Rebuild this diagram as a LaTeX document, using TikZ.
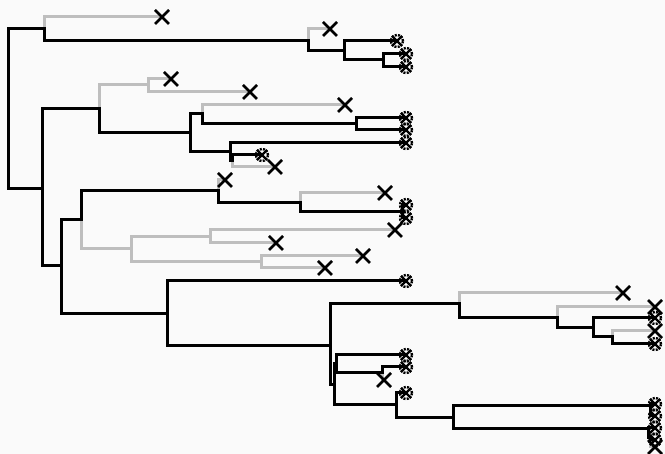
\documentclass[tikz,border=0pt]{standalone}
\definecolor{lostgray}{RGB}{190,190,190}
\definecolor{paper}{RGB}{250,250,250}
\tikzset{
    live/.style={draw=black, line width=3pt, line cap=rect},
    dead/.style={draw=lostgray, line width=3pt, line cap=rect},
    gone/.pic={\draw[line width=2.6pt] (-7,-7) -- (7,7) (-7,7) -- (7,-7);},
    alive/.pic={
        \draw[line width=2.4pt, dash pattern=on 2pt off 1.2pt] (0,0) circle (6pt);
        \draw[line width=2.2pt] (-5,-5) -- (5,5) (-5,5) -- (5,-5);}
}
\begin{document}
\begin{tikzpicture}[x=1pt, y=-1pt]
    \fill[paper] (0,0) rectangle (665,454);
    \useasboundingbox (0,0) rectangle (665,454);

    % Upper clade
    \coordinate (root) at (8,109);
    \coordinate (a) at (44,29);
    \coordinate (a1) at (162,17);
    \coordinate (b) at (308,41);
    \coordinate (b1) at (330,29);
    \coordinate (c) at (344,51);
    \coordinate (c1) at (397,41);
    \coordinate (d) at (383,60);
    \coordinate (d1) at (406,54);
    \coordinate (d2) at (406,67);

    % Middle clade
    \coordinate (e) at (42,189);
    \coordinate (f) at (99,109);
    \coordinate (g) at (148,85);
    \coordinate (g1) at (171,79);
    \coordinate (g2) at (250,92);
    \coordinate (h) at (190,133);
    \coordinate (i) at (202,114);
    \coordinate (i1) at (345,105);
    \coordinate (j) at (356,124);
    \coordinate (j1) at (406,118);
    \coordinate (j2) at (406,130);
    \coordinate (k) at (230,152);
    \coordinate (k1) at (406,143);
    \coordinate (l) at (232,161);
    \coordinate (l1) at (262,155);
    \coordinate (l2) at (275,167);

    \coordinate (m) at (61,266);
    \coordinate (n) at (81,220);
    \coordinate (o) at (218,191);
    \coordinate (o1) at (225,180);
    \coordinate (p) at (300,203);
    \coordinate (p1) at (385,193);
    \coordinate (pp) at (402,212);
    \coordinate (pp1) at (406,205);
    \coordinate (pp2) at (406,218);
    \coordinate (q) at (131,249);
    \coordinate (r) at (210,237);
    \coordinate (r1) at (395,230);
    \coordinate (r2) at (276,243);
    \coordinate (s) at (261,262);
    \coordinate (s1) at (363,256);
    \coordinate (s2) at (325,268);

    % Lower clade
    \coordinate (t) at (167,314);
    \coordinate (t1) at (406,281);
    \coordinate (u) at (330,346);
    \coordinate (aa) at (459,304);
    \coordinate (aa1) at (623,293);
    \coordinate (bb) at (557,318);
    \coordinate (bb1) at (655,307);
    \coordinate (cc) at (593,328);
    \coordinate (cc1) at (655,318);
    \coordinate (dd) at (612,337);
    \coordinate (dd1) at (655,331);
    \coordinate (dd2) at (655,344);
    \coordinate (y) at (334,385);
    \coordinate (z) at (336,364);
    \coordinate (z1) at (406,355);
    \coordinate (v) at (382,373);
    \coordinate (v1) at (406,367);
    \coordinate (v2) at (384,380);
    \coordinate (w0) at (396,405);
    \coordinate (w01) at (406,393);
    \coordinate (w) at (453,418);
    \coordinate (wa) at (650,406);
    \coordinate (wa1) at (655,404);
    \coordinate (wa2) at (655,416);
    \coordinate (wb) at (648,429);
    \coordinate (wb1) at (655,428);
    \coordinate (wc) at (650,438);
    \coordinate (wc1) at (655,440);
    \coordinate (wc2) at (655,447);

    % extinct lineages
    \foreach \up/\kid in {a/a1, b/b1, f/g, g/g1, g/g2, i/i1, l/l2, o/o1,
        p/p1, n/q, q/r, q/s, r/r1, r/r2, s/s1, s/s2, aa/aa1, bb/bb1,
        dd/dd1, v/v2, wc/wc2}
        \draw[dead] (\up) |- (\kid);

    % surviving lineages
    \foreach \up/\kid in {root/a, a/b, b/c, c/c1, c/d, d/d1, d/d2,
        root/e, e/f, e/m, f/h, h/i, h/k, i/j, j/j1, j/j2, k/k1, k/l, l/l1,
        m/n, n/o, o/p, p/pp, pp/pp1, pp/pp2, m/t, t/t1, t/u,
        u/aa, aa/bb, bb/cc, cc/cc1, cc/dd, dd/dd2,
        u/y, y/z, z/z1, z/v, v/v1, y/w0, w0/w01, w0/w,
        w/wa, wa/wa1, wa/wa2, w/wb, wb/wb1, wb/wc, wc/wc1}
        \draw[live] (\up) |- (\kid);

    % tip markers
    \foreach \tip in {a1, b1, g1, g2, i1, l2, o1, p1, r1, r2, s1, s2,
        aa1, bb1, dd1, v2, wc2}
        \pic at (\tip) {gone};
    \foreach \tip in {c1, d1, d2, j1, j2, k1, l1, pp1, pp2, t1,
        cc1, dd2, z1, v1, w01, wa1, wa2, wb1, wc1}
        \pic at (\tip) {alive};
\end{tikzpicture}
\end{document}
